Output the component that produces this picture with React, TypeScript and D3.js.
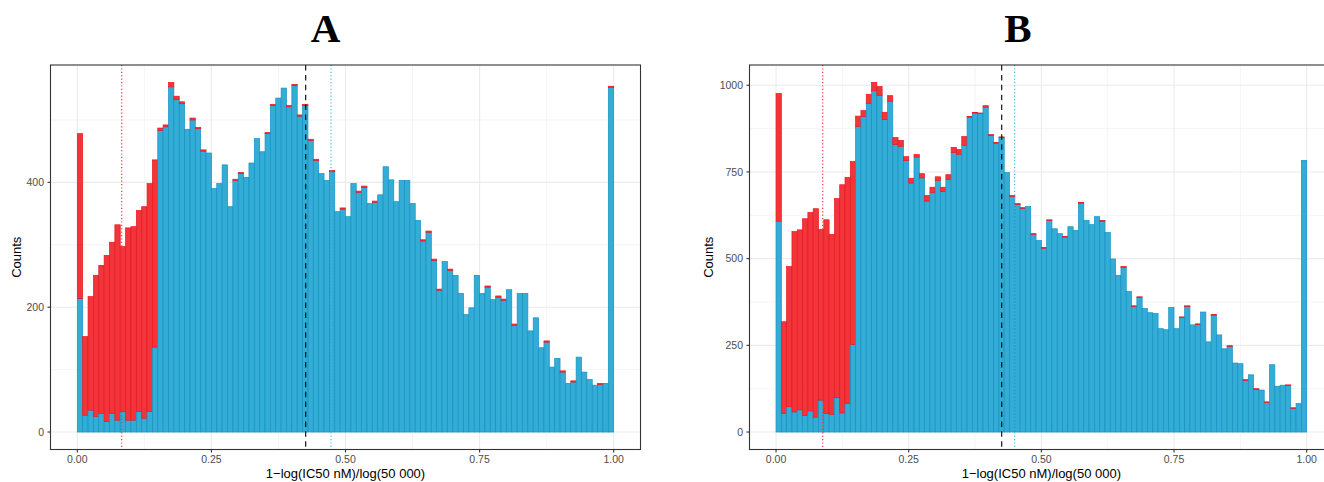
import React from "react";
import * as d3 from "d3";

// histogram bins of width 0.01 from 0 to 1
const binWidth = 0.01;

// panel A counts, stacked: blue at the bottom, red on top
const blueA = [
  214, 27, 35, 25, 30, 17, 30, 19, 33, 19, 19, 33, 22, 33, 136, 483, 489, 553, 533, 526,
  485, 500, 486, 450, 447, 390, 398, 428, 361, 403, 414, 408, 431, 470, 449, 478, 523, 535, 551, 521,
  555, 506, 523, 467, 435, 414, 403, 417, 353, 357, 345, 398, 384, 392, 366, 368, 380, 425, 404, 369,
  403, 403, 366, 339, 306, 320, 275, 227, 273, 259, 251, 222, 188, 199, 251, 222, 232, 212, 216, 211,
  228, 171, 222, 222, 162, 183, 135, 144, 104, 118, 96, 78, 80, 120, 96, 84, 75, 76, 78, 552,
];
const redA = [
  264, 126, 182, 226, 237, 266, 274, 313, 264, 308, 310, 322, 339, 365, 300, 4, 3, 7, 5, 3,
  0, 3, 2, 2, 0, 0, 0, 0, 0, 2, 2, 0, 0, 0, 0, 2, 2, 0, 0, 2,
  2, 2, 2, 2, 2, 0, 0, 2, 0, 2, 0, 0, 2, 2, 0, 2, 0, 0, 0, 0,
  0, 0, 0, 0, 2, 2, 2, 2, 0, 2, 0, 0, 0, 0, 0, 0, 2, 0, 2, 2,
  0, 2, 0, 0, 0, 0, 0, 2, 0, 0, 2, 0, 2, 0, 0, 0, 0, 2, 0, 2,
];

// panel B counts
const blueB = [
  608, 54, 73, 58, 64, 48, 61, 43, 92, 54, 51, 99, 55, 83, 252, 881, 910, 948, 984, 971,
  901, 954, 829, 824, 783, 718, 793, 733, 666, 690, 725, 694, 729, 806, 801, 827, 908, 920, 919, 937,
  855, 833, 850, 748, 679, 656, 645, 650, 570, 552, 530, 610, 586, 572, 562, 592, 581, 660, 610, 598,
  621, 608, 575, 499, 452, 475, 405, 362, 388, 356, 344, 342, 298, 295, 359, 298, 330, 362, 309, 310,
  346, 260, 337, 280, 240, 247, 199, 197, 149, 165, 123, 121, 85, 194, 132, 135, 134, 68, 82, 783,
];
const redB = [
  368, 264, 404, 520, 519, 567, 572, 601, 492, 558, 519, 574, 658, 651, 528, 30, 17, 26, 24, 25,
  21, 16, 20, 17, 11, 14, 7, 12, 16, 16, 11, 12, 13, 15, 14, 25, 2, 1, 1, 4,
  3, 2, 1, 0, 3, 3, 2, 0, 2, 0, 2, 2, 0, 0, 2, 0, 0, 2, 0, 0,
  0, 2, 0, 0, 0, 2, 0, 2, 2, 0, 0, 0, 0, 0, 0, 0, 2, 2, 0, 2,
  0, 0, 2, 0, 0, 2, 0, 0, 2, 0, 2, 0, 2, 0, 0, 0, 2, 2, 0, 0,
];

const xTicks = [0, 0.25, 0.5, 0.75, 1];
const xMinor = [0.125, 0.375, 0.625, 0.875];
const yTicksA = [0, 200, 400];
const yMinorA = [100, 300, 500];
const yTicksB = [0, 250, 500, 750, 1000];
const yMinorB = [125, 375, 625, 875];

// reference lines: red-group median, overall median, blue-group median
const linesA = [0.0828, 0.4258, 0.473];
const linesB = [0.088, 0.4253, 0.4497];

const RED = "#F2353A";
const RED_LINE = "#EC161D";
const BLUE = "#33ADD6";
const BLUE_LINE = "#1392C3";
const GRID = "#EBEBEB";
const TXT = "#4D4D4D";
const SANS = "'Liberation Sans', Arial, Helvetica, sans-serif";

function Panel({ title, titleX, blue, red, yTicks, yMinor, lines, left, right, yLabelX }) {
  const top = 65,
    bottom = 449.5;
  const x = d3.scaleLinear().domain([-0.05, 1.05]).range([left, right]);
  const maxY = d3.max(blue.map((b, i) => b + red[i]));
  const y = d3.scaleLinear().domain([-0.05 * maxY, 1.05 * maxY]).range([bottom, top]);
  const fmtX = d3.format(".2f");
  const midX = (left + right) / 2;
  const midY = (top + bottom) / 2;

  return (
    <g>
      <text x={titleX} y={42} textAnchor="middle" fontFamily="'Liberation Serif', 'Times New Roman', serif" fontWeight="bold" fontSize={41}>
        {title}
      </text>
      <rect x={left} y={top} width={right - left} height={bottom - top} fill="white" />
      {xMinor.map((t) => (
        <line key={"xm" + t} x1={x(t)} x2={x(t)} y1={top} y2={bottom} stroke={GRID} strokeWidth={0.55} />
      ))}
      {yMinor.map((t) => (
        <line key={"ym" + t} x1={left} x2={right} y1={y(t)} y2={y(t)} stroke={GRID} strokeWidth={0.55} />
      ))}
      {xTicks.map((t) => (
        <line key={"xg" + t} x1={x(t)} x2={x(t)} y1={top} y2={bottom} stroke={GRID} strokeWidth={1.1} />
      ))}
      {yTicks.map((t) => (
        <line key={"yg" + t} x1={left} x2={right} y1={y(t)} y2={y(t)} stroke={GRID} strokeWidth={1.1} />
      ))}
      {blue.map((b, i) => {
        const x0 = x(i * binWidth),
          x1 = x((i + 1) * binWidth);
        const r = red[i];
        return (
          <g key={"bar" + i}>
            <rect x={x0} y={y(b)} width={x1 - x0} height={y(0) - y(b)} fill={BLUE} stroke={BLUE_LINE} strokeWidth={0.7} />
            {r > 0 && (
              <rect x={x0} y={y(b + r)} width={x1 - x0} height={y(b) - y(b + r)} fill={RED} stroke={RED_LINE} strokeWidth={0.7} />
            )}
          </g>
        );
      })}
      <line x1={x(lines[0])} x2={x(lines[0])} y1={top} y2={bottom} stroke="#F0323A" strokeWidth={1.2} strokeDasharray="1.2,2.2" />
      <line x1={x(lines[1])} x2={x(lines[1])} y1={top} y2={bottom} stroke="#000" strokeWidth={1.1} strokeDasharray="5.5,4.4" />
      <line x1={x(lines[2])} x2={x(lines[2])} y1={top} y2={bottom} stroke="#45B8E0" strokeWidth={1.2} strokeDasharray="1.2,2.2" />
      <rect x={left} y={top} width={right - left} height={bottom - top} fill="none" stroke="#333333" strokeWidth={1.1} />
      {xTicks.map((t) => (
        <g key={"xt" + t}>
          <line x1={x(t)} x2={x(t)} y1={bottom} y2={bottom + 3} stroke="#333333" strokeWidth={1.1} />
          <text x={x(t)} y={463} textAnchor="middle" fontFamily={SANS} fontSize={10.5} fill={TXT}>
            {fmtX(t)}
          </text>
        </g>
      ))}
      {yTicks.map((t) => (
        <g key={"yt" + t}>
          <line x1={left - 3} x2={left} y1={y(t)} y2={y(t)} stroke="#333333" strokeWidth={1.1} />
          <text x={left - 6.5} y={y(t)} dy="0.35em" textAnchor="end" fontFamily={SANS} fontSize={10.5} fill={TXT}>
            {t}
          </text>
        </g>
      ))}
      <text x={midX} y={478} textAnchor="middle" fontFamily={SANS} fontSize={13} fill="#000">
        1−log(IC50 nM)/log(50 000)
      </text>
      <text
        transform={`translate(${yLabelX},${midY}) rotate(-90)`}
        textAnchor="middle"
        dy="0.35em"
        fontFamily={SANS}
        fontSize={13}
        fill="#000"
      >
        Counts
      </text>
    </g>
  );
}

export default function App() {
  return (
    <svg
      width={1324}
      height={482}
      style={{ position: "absolute", left: 0, top: 0, display: "block", background: "white" }}
    >
      <rect width={1324} height={482} fill="white" />
      <Panel
        title="A"
        titleX={325.5}
        blue={blueA}
        red={redA}
        yTicks={yTicksA}
        yMinor={yMinorA}
        lines={linesA}
        left={50.5}
        right={640.5}
        yLabelX={16}
      />
      <Panel
        title="B"
        titleX={1018}
        blue={blueB}
        red={redB}
        yTicks={yTicksB}
        yMinor={yMinorB}
        lines={linesB}
        left={749.5}
        right={1333.2}
        yLabelX={708}
      />
    </svg>
  );
}
